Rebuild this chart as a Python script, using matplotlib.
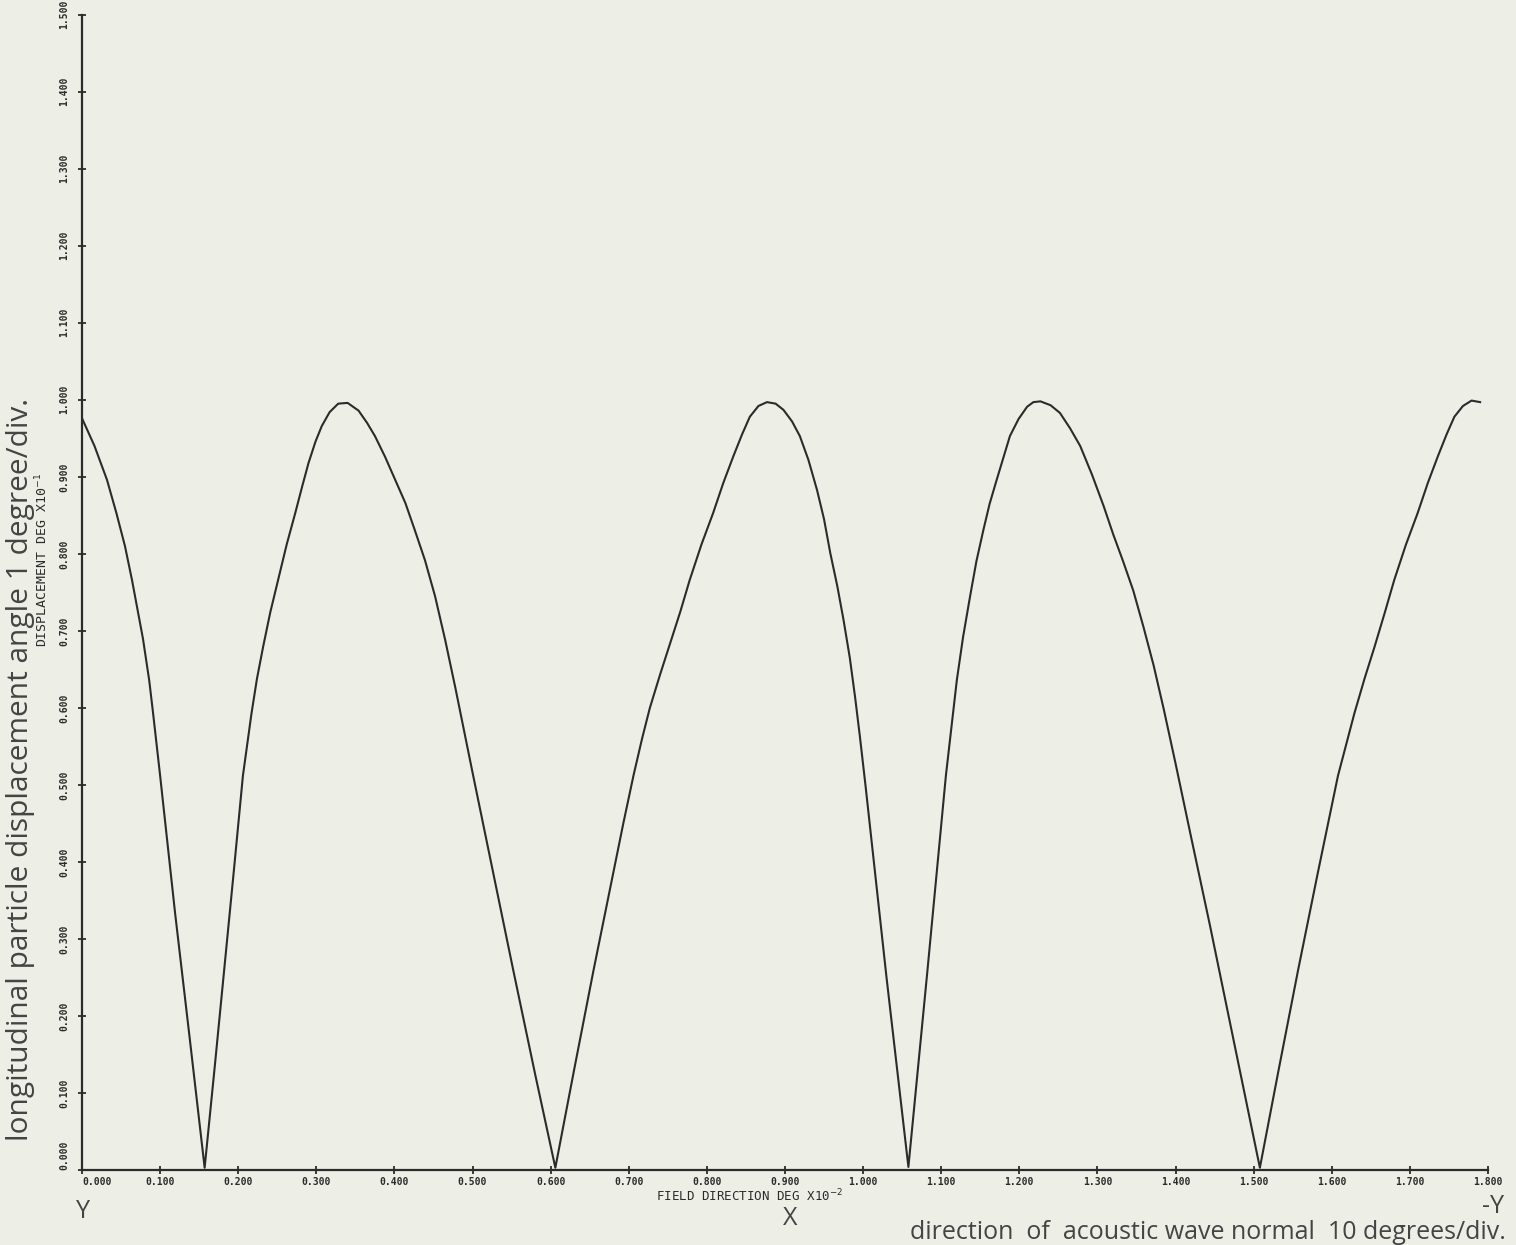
import matplotlib.pyplot as plt
import numpy as np

# curve (x in deg x10^-2, y in deg x10^-1)
field_dir = [0.000, 0.016, 0.032, 0.044, 0.055, 0.064, 0.072, 0.078, 0.086, 0.091,
             0.100, 0.119, 0.138, 0.157,
             0.170, 0.183, 0.195, 0.206, 0.217, 0.224, 0.232, 0.241, 0.251, 0.262,
             0.273, 0.282, 0.290, 0.299, 0.307, 0.317, 0.328, 0.340, 0.354, 0.365,
             0.375, 0.388, 0.401, 0.414, 0.426, 0.439, 0.452, 0.465, 0.478, 0.500,
             0.526, 0.552, 0.580, 0.606,
             0.630, 0.655, 0.680, 0.693, 0.706, 0.717, 0.727, 0.740, 0.753, 0.766,
             0.778, 0.793, 0.808, 0.821, 0.834, 0.845, 0.855, 0.866, 0.877, 0.888,
             0.898, 0.909, 0.919, 0.930, 0.941, 0.950, 0.958, 0.967, 0.975, 0.983,
             0.990, 0.996, 1.003, 1.030, 1.058,
             1.082, 1.106, 1.120, 1.128, 1.137, 1.145, 1.154, 1.162, 1.171, 1.180,
             1.188, 1.199, 1.210, 1.218, 1.227, 1.240, 1.252, 1.265, 1.278, 1.293,
             1.308, 1.320, 1.333, 1.346, 1.359, 1.372, 1.385, 1.400, 1.420, 1.444,
             1.470, 1.508,
             1.532, 1.557, 1.582, 1.608, 1.629, 1.642, 1.655, 1.668, 1.680, 1.695,
             1.710, 1.723, 1.736, 1.747, 1.757, 1.768, 1.779, 1.790]
displacement = [0.976, 0.940, 0.896, 0.853, 0.810, 0.766, 0.723, 0.690, 0.636, 0.593,
                0.512, 0.335, 0.170, 0.003,
                0.135, 0.270, 0.395, 0.512, 0.593, 0.638, 0.680, 0.724, 0.766, 0.812,
                0.853, 0.888, 0.918, 0.946, 0.966, 0.984, 0.995, 0.996, 0.986, 0.970,
                0.953, 0.926, 0.896, 0.866, 0.831, 0.792, 0.745, 0.688, 0.626, 0.516,
                0.388, 0.260, 0.125, 0.003,
                0.130, 0.260, 0.385, 0.450, 0.512, 0.560, 0.600, 0.643, 0.684, 0.725,
                0.766, 0.812, 0.853, 0.892, 0.927, 0.955, 0.978, 0.992, 0.997, 0.995,
                0.987, 0.972, 0.953, 0.922, 0.883, 0.845, 0.801, 0.758, 0.714, 0.665,
                0.612, 0.562, 0.500, 0.250, 0.004,
                0.255, 0.512, 0.636, 0.692, 0.745, 0.790, 0.831, 0.865, 0.896, 0.926,
                0.953, 0.975, 0.991, 0.997, 0.998, 0.993, 0.983, 0.963, 0.940, 0.903,
                0.862, 0.826, 0.790, 0.752, 0.705, 0.655, 0.598, 0.528, 0.432, 0.318,
                0.190, 0.003,
                0.130, 0.260, 0.385, 0.512, 0.593, 0.638, 0.680, 0.724, 0.766, 0.812,
                0.853, 0.892, 0.927, 0.955, 0.978, 0.992, 0.999, 0.997]

x_ticks = np.round(np.arange(0, 1.81, 0.1), 1)
y_ticks = np.round(np.arange(0, 1.51, 0.1), 1)
x_labels = ['%.3f' % v for v in x_ticks]
y_labels = ['%.3f' % v for v in y_ticks]

paper = '#edefe6'
ink = '#2b2b2b'
pencil = '#444444'

fig = plt.figure(figsize=(15.16, 12.45), dpi=100, facecolor=paper)
ax = fig.add_axes([0.0541, 0.0602, 0.9274, 0.928])
ax.set_facecolor(paper)

ax.plot(field_dir, displacement, color=ink, linewidth=1.5)

ax.set_xlim(0, 1.8)
ax.set_ylim(0, 1.5)
for side in ['top', 'right']:
    ax.spines[side].set_visible(False)
for side in ['left', 'bottom']:
    ax.spines[side].set_color(ink)
    ax.spines[side].set_linewidth(1.6)

mono = 'DejaVu Sans Mono'
ax.set_xticks(x_ticks)
ax.set_xticklabels(x_labels, fontsize=7, family=mono, fontweight='bold', color=ink)
ax.set_yticks(y_ticks)
ax.set_yticklabels(y_labels, fontsize=7, family=mono, fontweight='bold', color=ink,
                   rotation=90, va='center')
ax.tick_params(axis='both', direction='inout', length=6, width=1.3, color=ink)
ax.tick_params(axis='x', pad=2)
ax.tick_params(axis='y', pad=6)
# the two origin labels sit clear of the corner
ax.get_xticklabels()[0].set_ha('left')
ax.get_yticklabels()[0].set_va('bottom')

# printed axis captions
ax.set_xlabel('FIELD DIRECTION DEG X10$^{-2}$', fontsize=9, family=mono,
              color=ink, va='top')
ax.xaxis.set_label_coords(0.475, -0.0155)
ax.set_ylabel('DISPLACEMENT DEG X10$^{-1}$', fontsize=9.5, family=mono,
              color=ink, va='center')
ax.yaxis.set_label_coords(-0.0285, 0.528)

# hand-lettered annotations
hand = 'Open Sans'
fig.text(0.0135, 0.382, 'longitudinal particle displacement angle 1 degree/div.',
         rotation=90, ha='center', va='center', fontsize=21.5, family=hand,
         color=pencil)
fig.text(0.0545, 0.027, 'Y', ha='center', va='center', fontsize=18,
         family=hand, color=pencil)
fig.text(0.521, 0.021, 'X', ha='center', va='center', fontsize=18,
         family=hand, color=pencil)
fig.text(0.992, 0.031, '-Y', ha='right', va='center', fontsize=18,
         family=hand, color=pencil)
fig.text(0.993, 0.010, 'direction  of  acoustic wave normal  10 degrees/div.',
         ha='right', va='center', fontsize=18, family=hand, color=pencil)

fig.savefig('out.png', dpi=100, facecolor=paper)
